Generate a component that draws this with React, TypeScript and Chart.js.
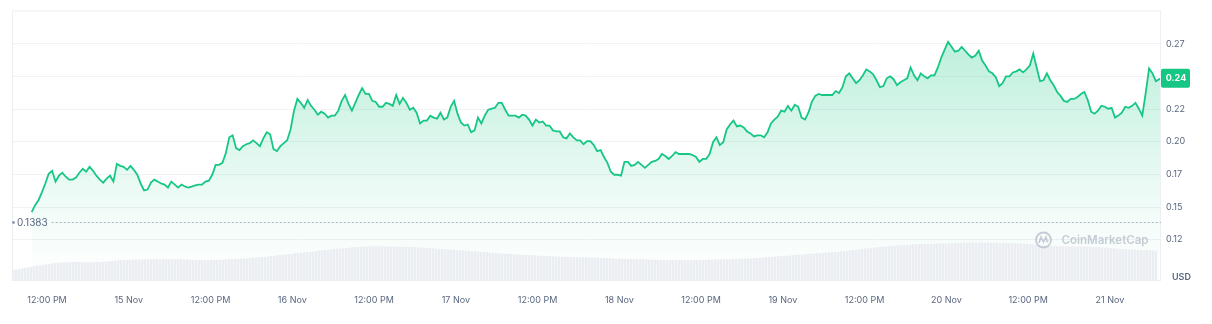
import React, { useEffect, useRef } from "react";
import { Chart, registerables } from "chart.js";

Chart.register(...registerables);

// ---- data ----
// hours counted from 14 Nov 00:00
const priceStartHour = 9.75;
const priceStepHours = 0.5;
const prices = [
  0.1461,0.1514,0.1552,0.1612,0.1680,0.1755,0.1778,0.1695,0.1740,0.1763,
  0.1732,0.1710,0.1710,0.1725,0.1763,0.1793,0.1770,0.1808,0.1778,0.1740,
  0.1710,0.1687,0.1717,0.1740,0.1695,0.1830,0.1815,0.1808,0.1785,0.1815,
  0.1785,0.1747,0.1680,0.1627,0.1634,0.1687,0.1710,0.1695,0.1680,0.1672,
  0.1649,0.1695,0.1672,0.1649,0.1672,0.1657,0.1649,0.1657,0.1665,0.1672,
  0.1672,0.1695,0.1702,0.1747,0.1823,0.1823,0.1838,0.1913,0.2034,0.2049,
  0.1951,0.1936,0.1966,0.1981,0.1989,0.2011,0.1989,0.1966,0.2026,0.2072,
  0.2057,0.1943,0.1928,0.1966,0.1989,0.2011,0.2094,0.2238,0.2328,0.2298,
  0.2260,0.2320,0.2275,0.2245,0.2207,0.2230,0.2215,0.2185,0.2200,0.2200,
  0.2238,0.2313,0.2358,0.2290,0.2238,0.2298,0.2358,0.2411,0.2366,0.2366,
  0.2313,0.2305,0.2268,0.2268,0.2298,0.2290,0.2275,0.2358,0.2290,0.2336,
  0.2298,0.2245,0.2260,0.2222,0.2140,0.2162,0.2162,0.2200,0.2185,0.2177,
  0.2222,0.2170,0.2185,0.2268,0.2313,0.2215,0.2147,0.2124,0.2132,0.2072,
  0.2087,0.2185,0.2140,0.2200,0.2245,0.2253,0.2260,0.2298,0.2298,0.2245,
  0.2200,0.2200,0.2200,0.2185,0.2207,0.2200,0.2170,0.2124,0.2170,0.2147,
  0.2155,0.2124,0.2124,0.2087,0.2079,0.2079,0.2034,0.2026,0.2064,0.2034,
  0.2011,0.2011,0.1981,0.2004,0.2004,0.1974,0.1928,0.1936,0.1883,0.1838,
  0.1770,0.1747,0.1747,0.1740,0.1846,0.1846,0.1815,0.1823,0.1846,0.1823,
  0.1800,0.1823,0.1846,0.1853,0.1868,0.1906,0.1891,0.1868,0.1891,0.1921,
  0.1906,0.1906,0.1906,0.1906,0.1898,0.1883,0.1846,0.1868,0.1868,0.1906,
  0.1996,0.2034,0.1974,0.1996,0.2094,0.2132,0.2162,0.2117,0.2124,0.2109,
  0.2079,0.2064,0.2041,0.2049,0.2049,0.2034,0.2072,0.2140,0.2170,0.2192,
  0.2238,0.2230,0.2275,0.2238,0.2283,0.2268,0.2185,0.2170,0.2222,0.2305,
  0.2351,0.2366,0.2358,0.2358,0.2358,0.2358,0.2388,0.2373,0.2418,0.2501,
  0.2524,0.2486,0.2449,0.2471,0.2509,0.2554,0.2539,0.2516,0.2471,0.2418,
  0.2426,0.2486,0.2501,0.2479,0.2433,0.2456,0.2471,0.2486,0.2569,0.2509,
  0.2471,0.2524,0.2501,0.2486,0.2509,0.2509,0.2569,0.2645,0.2705,0.2765,
  0.2727,0.2690,0.2697,0.2727,0.2697,0.2667,0.2645,0.2660,0.2697,0.2622,
  0.2584,0.2539,0.2524,0.2494,0.2426,0.2449,0.2501,0.2501,0.2531,0.2539,
  0.2554,0.2531,0.2554,0.2584,0.2675,0.2569,0.2464,0.2471,0.2524,0.2471,
  0.2433,0.2381,0.2351,0.2313,0.2305,0.2328,0.2328,0.2343,0.2366,0.2381,
  0.2320,0.2230,0.2215,0.2238,0.2275,0.2268,0.2253,0.2260,0.2185,0.2200,
  0.2222,0.2268,0.2260,0.2275,0.2298,0.2253,0.2200,0.2373,0.2562,0.2524,
  0.2464,0.2479,0.2486,
];

// volume (millions USD), every 4 hours
const volumeStartHour = 7;
const volumeStepHours = 4;
const volumes = [
  4.4, 6.6, 7.9, 7.9, 8.8, 9.2, 9.2, 8.8, 9.2, 10.1,
  11.4, 12.7, 14.0, 14.9, 14.9, 14.5, 13.6, 12.7, 11.8, 11.0,
  10.5, 10.1, 9.6, 9.2, 8.8, 8.8, 9.2, 9.6, 10.5, 11.4,
  12.3, 13.6, 14.9, 15.8, 16.2, 16.6, 16.6, 16.2, 15.3, 14.9,
  14.5, 13.6, 13.1,
];

const xTickHours = [12, 24, 36, 48, 60, 72, 84, 96, 108, 120, 132, 144, 156, 168];
const xTickLabels = [
  "12:00 PM", "15 Nov", "12:00 PM", "16 Nov", "12:00 PM", "17 Nov", "12:00 PM",
  "18 Nov", "12:00 PM", "19 Nov", "12:00 PM", "20 Nov", "12:00 PM", "21 Nov",
];
const yTickValues = [0.125, 0.15, 0.175, 0.2, 0.225, 0.25, 0.275];
const yTickLabels = ["0.12", "0.15", "0.17", "0.20", "0.22", "0.25", "0.27"];

const referencePrice = 0.1383;
const referenceLabel = "0.1383";
const currencyLabel = "USD";
const watermarkText = "CoinMarketCap";

const GREEN = "#16c784";
const TEXT = "#58667e";
const FONT = "Inter, 'Noto Sans', sans-serif";

const overlayPlugin = {
  id: "cmcOverlay",
  afterDatasetsDraw(chart: any) {
    const { ctx, chartArea: a, scales } = chart;
    const ys = scales.y;
    ctx.save();

    // frame
    ctx.strokeStyle = "#eceff3";
    ctx.lineWidth = 1;
    ctx.strokeRect(a.left + 0.5, a.top + 0.5, a.right - a.left - 1, a.bottom - a.top);

    // reference (open price) line
    const ry = Math.round(ys.getPixelForValue(referencePrice)) + 0.5;
    ctx.fillStyle = "#8f99ab";
    ctx.beginPath();
    ctx.arc(a.left + 1.5, ry, 1.4, 0, Math.PI * 2);
    ctx.fill();
    ctx.font = `10px ${FONT}`;
    ctx.fillStyle = TEXT;
    ctx.textAlign = "left";
    ctx.textBaseline = "middle";
    ctx.fillText(referenceLabel, a.left + 5, ry);
    const tw = ctx.measureText(referenceLabel).width;
    ctx.setLineDash([2, 2]);
    ctx.strokeStyle = "#aeb6c4";
    ctx.beginPath();
    ctx.moveTo(a.left + 5 + tw + 4, ry);
    ctx.lineTo(a.right, ry);
    ctx.stroke();
    ctx.setLineDash([]);

    // watermark
    const wx = a.right - 117.5;
    const wy = a.bottom - 40;
    ctx.strokeStyle = "rgba(175,183,196,0.7)";
    ctx.lineWidth = 1.8;
    ctx.beginPath();
    ctx.arc(wx, wy, 7.5, 0, Math.PI * 2);
    ctx.stroke();
    ctx.lineWidth = 1.6;
    ctx.beginPath();
    ctx.moveTo(wx - 4.5, wy + 3);
    ctx.lineTo(wx - 2.5, wy - 3);
    ctx.lineTo(wx, wy + 2);
    ctx.lineTo(wx + 2.5, wy - 3);
    ctx.lineTo(wx + 3.5, wy + 1.5);
    ctx.lineTo(wx + 5, wy + 1);
    ctx.stroke();
    ctx.font = `600 13px ${FONT}`;
    const ww = ctx.measureText(watermarkText).width;
    const size = (13 * 87) / ww;
    ctx.font = `600 ${size.toFixed(2)}px ${FONT}`;
    ctx.fillStyle = "rgba(175,183,196,0.7)";
    ctx.fillText(watermarkText, a.right - 99.5, wy + 1);

    ctx.restore();
  },
  afterDraw(chart: any) {
    const { ctx, chartArea: a, scales } = chart;
    const ys = scales.y;
    ctx.save();
    // current price badge
    const last = prices[prices.length - 1];
    const by = ys.getPixelForValue(last);
    const bw = 29;
    const bh = 19;
    ctx.fillStyle = GREEN;
    ctx.beginPath();
    (ctx as any).roundRect(a.right, by - bh / 2, bw, bh, 2);
    ctx.fill();
    ctx.font = `700 9px ${FONT}`;
    ctx.fillStyle = "#ffffff";
    ctx.textAlign = "center";
    ctx.textBaseline = "middle";
    ctx.fillText((Math.floor(last * 100) / 100).toFixed(2), a.right + bw / 2 + 0.5, by + 0.5);

    // currency label
    ctx.font = `600 9px ${FONT}`;
    ctx.fillStyle = TEXT;
    ctx.textAlign = "left";
    ctx.fillText(currencyLabel, a.right + 11, a.bottom - 3);
    ctx.restore();
  },
};

export default function App() {
  const ref = useRef<HTMLCanvasElement | null>(null);

  useEffect(() => {
    document.body.style.margin = "0";
    const canvas = ref.current;
    if (!canvas) return;

    const pc = document.createElement("canvas");
    pc.width = 3;
    pc.height = 4;
    const pctx = pc.getContext("2d")!;
    pctx.fillStyle = "#eaedf1";
    pctx.fillRect(0, 0, 3, 4);
    pctx.fillStyle = "#f3f5f7";
    pctx.fillRect(2, 0, 1, 4);
    const volPattern = canvas.getContext("2d")!.createPattern(pc, "repeat");

    const priceData = prices.map((v, i) => ({ x: priceStartHour + i * priceStepHours, y: v }));
    const volumeData = volumes.map((v, i) => ({ x: volumeStartHour + i * volumeStepHours, y: v }));

    const chart = new Chart(canvas, {
      type: "line",
      data: {
        datasets: [
          {
            label: "Volume",
            data: volumeData,
            yAxisID: "yv",
            borderWidth: 0,
            borderColor: "rgba(0,0,0,0)",
            backgroundColor: volPattern as any,
            fill: "start",
            tension: 0.4,
            pointRadius: 0,
            order: 0,
          },
          {
            label: "Price",
            data: priceData,
            yAxisID: "y",
            borderColor: GREEN,
            borderWidth: 1.8,
            tension: 0,
            pointRadius: 0,
            fill: "start",
            order: 1,
            backgroundColor: (c: any) => {
              const area = c.chart.chartArea;
              if (!area) return "rgba(22,199,132,0.15)";
              const g = c.chart.ctx.createLinearGradient(0, area.top, 0, area.bottom);
              g.addColorStop(0, "rgba(22,199,132,0.32)");
              g.addColorStop(0.7, "rgba(22,199,132,0.07)");
              g.addColorStop(1, "rgba(22,199,132,0.0)");
              return g;
            },
          },
        ],
      },
      options: {
        animation: false,
        responsive: false,
        devicePixelRatio: 1,
        layout: { padding: { left: 12, top: 6, right: 0, bottom: 0 } },
        plugins: { legend: { display: false }, tooltip: { enabled: false } },
        scales: {
          x: {
            type: "linear",
            min: 6.863,
            max: 175.5,
            grid: { display: false },
            border: { display: false },
            afterBuildTicks: (axis: any) => {
              axis.ticks = xTickHours.map((v) => ({ value: v }));
            },
            afterFit: (axis: any) => {
              axis.height = 44;
            },
            ticks: {
              autoSkip: false,
              maxRotation: 0,
              padding: 7,
              color: TEXT,
              font: { family: FONT, size: 9 },
              callback: (_v: any, i: number) => xTickLabels[i],
            },
          },
          y: {
            position: "right",
            min: 0.0941,
            max: 0.3006,
            afterBuildTicks: (axis: any) => {
              axis.ticks = yTickValues.map((v) => ({ value: v }));
            },
            afterFit: (axis: any) => {
              axis.width = 51;
            },
            grid: { color: "#f0f2f5", drawTicks: false },
            border: { display: false },
            ticks: {
              padding: 5,
              color: TEXT,
              font: { family: FONT, size: 9 },
              callback: (_v: any, i: number) => yTickLabels[i],
            },
          },
          yv: {
            display: false,
            min: 0,
            max: 120,
          },
        },
      },
      plugins: [overlayPlugin],
    });

    return () => chart.destroy();
  }, []);

  return (
    <div style={{ width: 1212, height: 324, position: "relative" }}>
      <canvas ref={ref} width={1212} height={324} style={{ display: "block" }} />
    </div>
  );
}
